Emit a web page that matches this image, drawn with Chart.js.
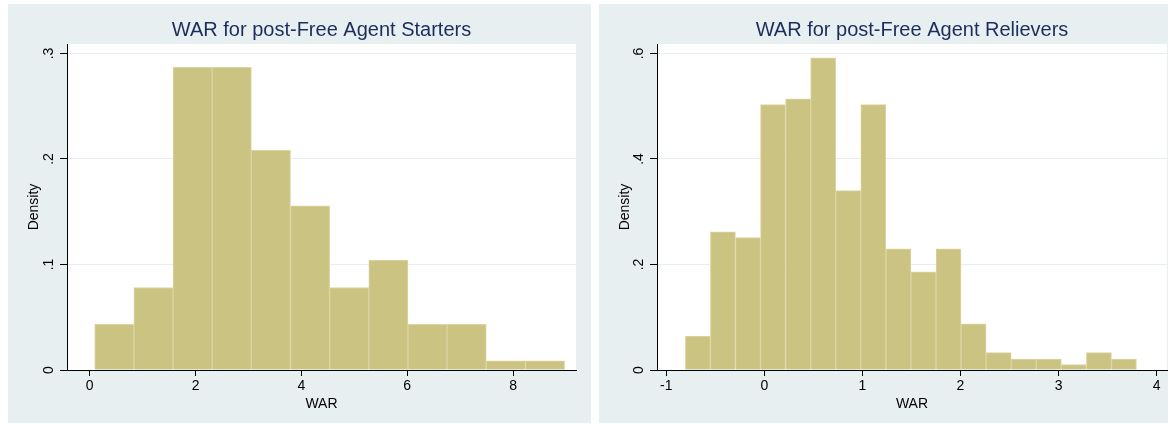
<!DOCTYPE html>
<html>
<head>
<meta charset="utf-8">
<script src="https://cdn.jsdelivr.net/npm/chart.js@4.4.0/dist/chart.umd.min.js"></script>
<style>
  html, body { margin: 0; padding: 0; background: #ffffff; width: 1172px; height: 424px; overflow: hidden; }
  .panel { position: absolute; background: #e8eff1; }
  #panelStarters { left: 8px; top: 4px; width: 583px; height: 419px; }
  #panelRelievers { left: 599px; top: 4px; width: 569px; height: 419px; }
  canvas { display: block; }
</style>
</head>
<body>
<div class="panel" id="panelStarters"><canvas id="starters" width="583" height="419"></canvas></div>
<div class="panel" id="panelRelievers"><canvas id="relievers" width="569" height="419"></canvas></div>
<script>
// Starters: bin midpoints (WAR) and histogram density
const starterBins = [0.464, 1.204, 1.944, 2.684, 3.424, 4.164, 4.904, 5.644, 6.384, 7.124, 7.864, 8.604];
const starterDensity = [0.0433, 0.0782, 0.2868, 0.2868, 0.2083, 0.1557, 0.0782, 0.1041, 0.0433, 0.0433, 0.0087, 0.0087];
const starterXTicks = [0, 2, 4, 6, 8];
const starterYTicks = [0, 0.1, 0.2, 0.3];
const starterYLabels = ['0', '.1', '.2', '.3'];

// Relievers: bin midpoints (WAR) and histogram density
const relieverBins = [-0.677, -0.422, -0.166, 0.089, 0.345, 0.600, 0.856, 1.111, 1.367, 1.622, 1.878, 2.133, 2.389, 2.644, 2.900, 3.155, 3.411, 3.666];
const relieverDensity = [0.0645, 0.262, 0.251, 0.503, 0.514, 0.592, 0.340, 0.503, 0.2296, 0.186, 0.2296, 0.0873, 0.0328, 0.0209, 0.0209, 0.0105, 0.0328, 0.0209];
const relieverXTicks = [-1, 0, 1, 2, 3, 4];
const relieverYTicks = [0, 0.2, 0.4, 0.6];
const relieverYLabels = ['0', '.2', '.4', '.6'];

const FONT = '"Liberation Sans", Arial, Helvetica, sans-serif';
const BAR_FILL = '#cbc381';
const BAR_EDGE = '#dcd5a2';
const GRID = '#e6eef1';
const TITLE_COLOR = '#1c2d5c';

// white plot region behind the bars
const plotBackground = {
  id: 'plotBackground',
  beforeDraw(chart) {
    const { ctx, chartArea: a } = chart;
    ctx.save();
    ctx.fillStyle = '#ffffff';
    ctx.fillRect(a.left, a.top, a.right - a.left, a.bottom - a.top);
    ctx.restore();
  }
};

function histogram(canvasId, opts) {
  const data = opts.bins.map((b, i) => ({ x: b, y: opts.density[i] }));
  return new Chart(document.getElementById(canvasId), {
    type: 'bar',
    data: {
      datasets: [{
        data: data,
        backgroundColor: BAR_FILL,
        borderColor: BAR_EDGE,
        borderWidth: 1,
        barPercentage: 1,
        categoryPercentage: 1
      }]
    },
    options: {
      responsive: false,
      animation: false,
      devicePixelRatio: 1,
      layout: { padding: { left: 0, right: opts.rightPad, top: 0, bottom: 0 } },
      plugins: {
        legend: { display: false },
        tooltip: { enabled: false },
        title: {
          display: true,
          text: opts.title,
          color: TITLE_COLOR,
          fullSize: false,
          font: { family: FONT, size: 20, weight: 'normal', lineHeight: 1.2 },
          padding: { top: 14.5, bottom: 1.5 }
        }
      },
      scales: {
        x: {
          type: 'linear',
          offset: false,
          min: opts.xMin,
          max: opts.xMax,
          afterBuildTicks: s => { s.ticks = opts.xTicks.map(v => ({ value: v })); },
          afterFit: s => { s.height = 53; },
          ticks: {
            color: '#000',
            font: { family: FONT, size: 14 },
            padding: 2,
            maxRotation: 0,
            autoSkip: false,
            callback: v => String(v)
          },
          grid: { offset: false, drawOnChartArea: false, drawTicks: true, tickLength: 6, tickColor: '#000' },
          border: { display: true, color: '#000', width: 1 },
          title: {
            display: true,
            text: 'WAR',
            color: '#000',
            font: { family: FONT, size: 14, lineHeight: 1.2 },
            padding: { top: 0, bottom: 10.5 }
          }
        },
        y: {
          min: 0,
          max: opts.yMax,
          afterBuildTicks: s => { s.ticks = opts.yTicks.map(v => ({ value: v })); },
          afterFit: s => { s.width = opts.yWidth; },
          ticks: {
            color: '#000',
            font: { family: FONT, size: 14 },
            minRotation: 90,
            maxRotation: 90,
            crossAlign: 'center',
            padding: 5,
            callback: v => opts.yLabels[opts.yTicks.indexOf(v)]
          },
          grid: { color: GRID, lineWidth: 1, drawTicks: true, tickLength: 7, tickColor: '#000' },
          border: { display: true, color: '#000', width: 1 },
          title: {
            display: true,
            text: 'Density',
            color: '#000',
            font: { family: FONT, size: 14, lineHeight: 1.2 },
            padding: { top: 17.5, bottom: 0 }
          }
        }
      }
    },
    plugins: [plotBackground]
  });
}

histogram('starters', {
  title: 'WAR for post-Free Agent Starters',
  bins: starterBins, density: starterDensity,
  xTicks: starterXTicks, yTicks: starterYTicks, yLabels: starterYLabels,
  xMin: -0.43, xMax: 9.19, yMax: 0.309,
  yWidth: 59, rightPad: 15
});

histogram('relievers', {
  title: 'WAR for post-Free Agent Relievers',
  bins: relieverBins, density: relieverDensity,
  xTicks: relieverXTicks, yTicks: relieverYTicks, yLabels: relieverYLabels,
  xMin: -1.094, xMax: 4.105, yMax: 0.618,
  yWidth: 58, rightPad: 1
});
</script>
</body>
</html>
